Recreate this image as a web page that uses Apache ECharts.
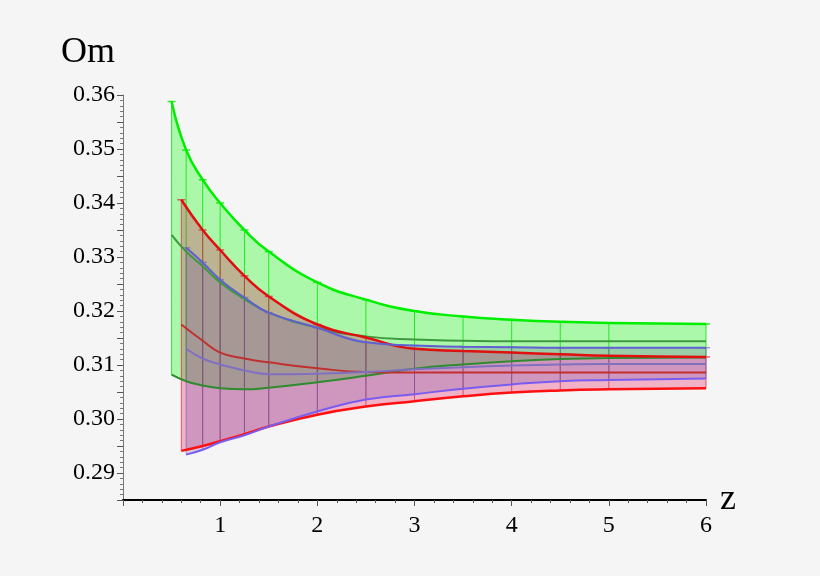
<!DOCTYPE html>
<html>
<head>
<meta charset="utf-8">
<script src="https://cdn.jsdelivr.net/npm/echarts@6/dist/echarts.min.js"></script>
<style>html,body{margin:0;background:#f5f5f5}#main{width:820px;height:576px}</style>
</head>
<body>
<div id="main"></div>
<script>
// z values and lower / central / upper curves
var greenZ   = [0.5, 0.65, 0.82, 1.0, 1.25, 1.5, 2.0, 2.5, 3.0, 3.5, 4.0, 4.5, 5.0, 6.0];
var greenLo  = [0.3082, 0.3070, 0.3062, 0.3057, 0.3055, 0.3058, 0.3068, 0.3080, 0.3093, 0.3101, 0.3107, 0.3111, 0.3113, 0.3114];
var greenMid = [0.3341, 0.3310, 0.3283, 0.3253, 0.3222, 0.3197, 0.3169, 0.3153, 0.3147, 0.3145, 0.3144, 0.3144, 0.3144, 0.3144];
var greenHi  = [0.3588, 0.3498, 0.3443, 0.3400, 0.3350, 0.3310, 0.3253, 0.3221, 0.3200, 0.3190, 0.3184, 0.3180, 0.3178, 0.3176];

var redZ   = [0.6, 0.82, 1.0, 1.25, 1.5, 2.0, 2.5, 3.0, 3.5, 4.0, 4.5, 5.0, 6.0];
var redLo  = [0.2941, 0.2950, 0.2959, 0.2972, 0.2986, 0.3008, 0.3023, 0.3033, 0.3042, 0.3049, 0.3053, 0.3055, 0.3057];
var redMid = [0.3175, 0.3145, 0.3123, 0.3112, 0.3105, 0.3094, 0.3087, 0.3086, 0.3086, 0.3086, 0.3086, 0.3086, 0.3086];
var redHi  = [0.3406, 0.3350, 0.3313, 0.3265, 0.3227, 0.3175, 0.3151, 0.3130, 0.3126, 0.3123, 0.3120, 0.3117, 0.3115];

var blueZ   = [0.65, 0.82, 1.0, 1.25, 1.5, 2.0, 2.5, 3.0, 3.5, 4.0, 4.5, 5.0, 6.0];
var blueLo  = [0.2934, 0.2943, 0.2957, 0.2970, 0.2986, 0.3014, 0.3036, 0.3046, 0.3056, 0.3064, 0.3070, 0.3072, 0.3075];
var blueMid = [0.3130, 0.3112, 0.3101, 0.3090, 0.3083, 0.3084, 0.3087, 0.3092, 0.3096, 0.3099, 0.3101, 0.3102, 0.3102];
var blueHi  = [0.3317, 0.3290, 0.3258, 0.3225, 0.3197, 0.3169, 0.3142, 0.3136, 0.3134, 0.3133, 0.3132, 0.3132, 0.3132];

var yTicks = [0.29, 0.30, 0.31, 0.32, 0.33, 0.34, 0.35, 0.36];

var serif = '"Liberation Serif", "Times New Roman", serif';

function pairs(z, v) { return z.map(function (x, i) { return [x, v[i]]; }); }

// band of error bars: translucent polygon plus vertical bars with caps
function band(name, z, lo, hi, fill, barColor) {
  var rows = z.map(function (x, i) { return [x, lo[i], hi[i]]; });
  return {
    name: name, type: 'custom', data: rows, z: 1,
    renderItem: function (params, api) {
      var kids = [];
      if (params.dataIndex === 0) {
        var pts = [];
        rows.forEach(function (r) { pts.push(api.coord([r[0], r[2]])); });
        rows.slice().reverse().forEach(function (r) { pts.push(api.coord([r[0], r[1]])); });
        kids.push({ type: 'polygon', shape: { points: pts }, style: { fill: fill } });
      }
      var a = api.coord([api.value(0), api.value(2)]);
      var b = api.coord([api.value(0), api.value(1)]);
      kids.push({ type: 'line', shape: { x1: a[0], y1: a[1], x2: b[0], y2: b[1] }, style: { stroke: barColor, lineWidth: 1 } });
      kids.push({ type: 'line', shape: { x1: a[0] - 4, y1: a[1], x2: a[0] + 4, y2: a[1] }, style: { stroke: barColor, lineWidth: 1.5 } });
      return { type: 'group', children: kids };
    }
  };
}

function line(name, z, v, color, w) {
  return { name: name, type: 'line', data: pairs(z, v), smooth: true, symbol: 'none', z: 3,
    lineStyle: { color: color, width: w || 2 } };
}

var myChart = echarts.init(document.getElementById('main'));

option = {
  backgroundColor: '#f5f5f5',
  animation: false,
  grid: { left: 123, right: 114, top: 95, bottom: 76 },
  xAxis: {
    type: 'value', min: 0, max: 6, interval: 1,
    name: 'z', nameGap: 14,
    nameTextStyle: { fontFamily: serif, fontSize: 36, color: '#000', verticalAlign: 'middle' },
    axisLine: { onZero: false, lineStyle: { color: '#000', width: 2 } },
    axisTick: { length: 6, lineStyle: { color: '#555' } },
    minorTick: { show: true, splitNumber: 5, length: 3, lineStyle: { color: '#555' } },
    splitLine: { show: false },
    axisLabel: { fontFamily: serif, fontSize: 24, color: '#000', margin: 14,
      formatter: function (v) { return v === 0 ? '' : v; } }
  },
  yAxis: {
    type: 'value', min: 0.285, max: 0.36, interval: 0.005,
    name: 'Om', nameLocation: 'end', nameGap: 24,
    nameTextStyle: { fontFamily: serif, fontSize: 36, color: '#000', align: 'center', padding: [0, 70, 0, 0] },
    axisLine: { onZero: false, lineStyle: { color: '#777', width: 1 } },
    axisTick: { length: 6, lineStyle: { color: '#555' } },
    minorTick: { show: true, splitNumber: 5, length: 3, lineStyle: { color: '#777' } },
    splitLine: { show: false },
    axisLabel: { fontFamily: serif, fontSize: 24, color: '#000', margin: 8,
      formatter: function (v) {
        var r = Math.round(v * 100) / 100;
        return (Math.abs(v - r) < 1e-6 && yTicks.indexOf(r) >= 0) ? r.toFixed(2) : '';
      } }
  },
  series: [
    band('green', greenZ, greenLo, greenHi, 'rgba(0,255,0,0.30)', 'rgba(0,230,0,0.8)'),
    band('red', redZ, redLo, redHi, 'rgba(230,0,80,0.28)', 'rgba(210,40,60,0.7)'),
    band('blue', blueZ, blueLo, blueHi, 'rgba(90,60,160,0.22)', 'rgba(110,90,170,0.6)'),
    line('gHi', greenZ, greenHi, '#00ee00', 2.5),
    line('gMid', greenZ, greenMid, '#3c9a3c', 2),
    line('gLo', greenZ, greenLo, '#2e8b2e', 2),
    line('rHi', redZ, redHi, '#e01010', 2.5),
    line('rMid', redZ, redMid, '#c03030', 2),
    line('rLo', redZ, redLo, '#ff1010', 2.5),
    line('bHi', blueZ, blueHi, '#6060d0', 2),
    line('bMid', blueZ, blueMid, '#8070c0', 2),
    line('bLo', blueZ, blueLo, '#7a5cf0', 2)
  ]
};

myChart.setOption(option);
</script>
</body>
</html>
